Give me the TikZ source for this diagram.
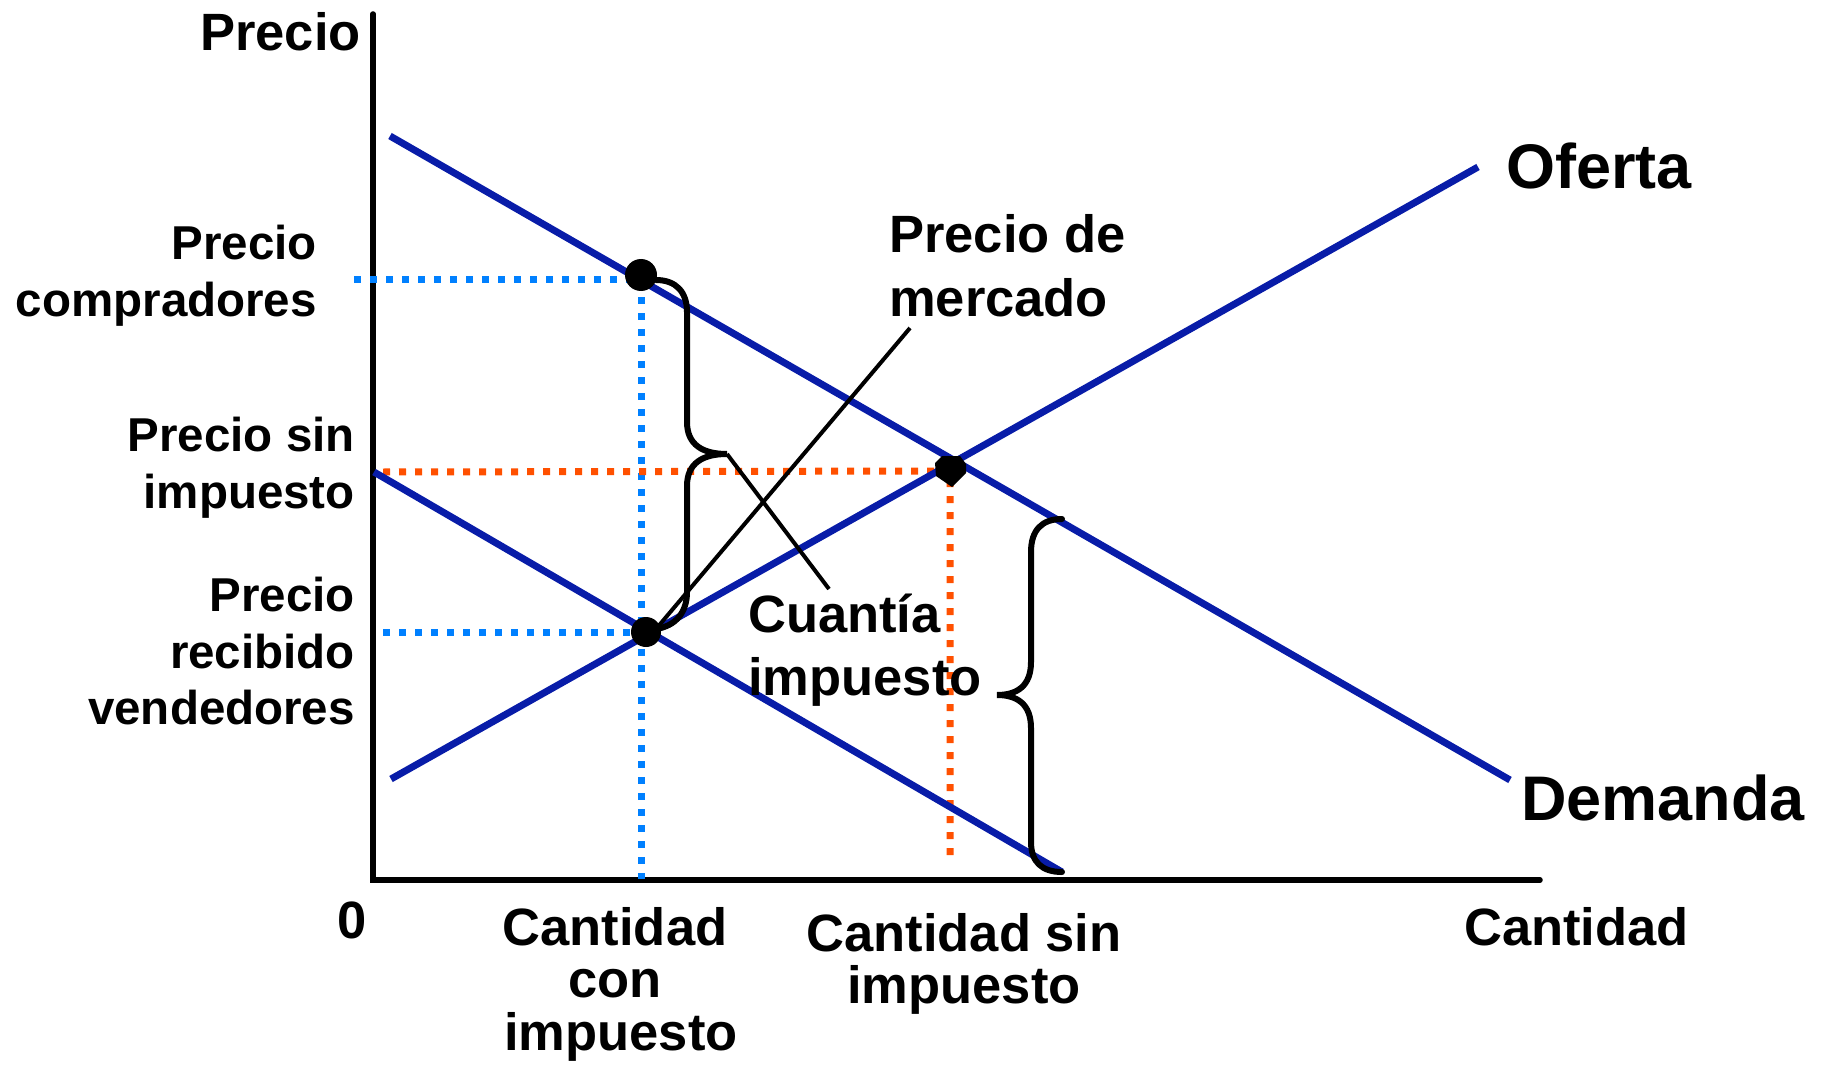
\documentclass[tikz,border=0pt]{standalone}
\usepackage{fontspec}
\setmainfont{Liberation Sans}
\definecolor{curveblue}{RGB}{8,28,168}
\definecolor{skyblue}{RGB}{0,128,255}
\definecolor{dotorange}{RGB}{255,80,0}
\tikzset{
  curveline/.style={draw=curveblue, line width=7pt},
  bluedots/.style={draw=skyblue, line width=7pt, dash pattern=on 7pt off 9pt},
  orangedots/.style={draw=dotorange, line width=7pt, dash pattern=on 7pt off 9pt},
  axisline/.style={draw=black, line width=5.5pt, line cap=round},
  bracepath/.style={draw=black, line width=6pt, line cap=round},
  leader/.style={draw=black, line width=4pt},
  ptdot/.style={circle, fill=black, inner sep=0pt, minimum size=32pt},
  sidelbl/.style={inner sep=0pt, font=\bfseries\fontsize{47.5}{47.5}\selectfont},
  mainlbl/.style={inner sep=0pt, font=\bfseries\fontsize{52.5}{52.5}\selectfont},
  biglbl/.style={inner sep=0pt, font=\bfseries\fontsize{63}{63}\selectfont},
}
\begin{document}
\begin{tikzpicture}[x=1pt, y=-1pt]
\useasboundingbox (0,0) rectangle (1825,1067);
% axes
\coordinate (ytop) at (373,14);
\coordinate (orig) at (373,880);
\coordinate (xend) at (1540,880);
\draw[axisline] (ytop) -- (orig) -- (xend);

% key coordinates
\coordinate (pb) at (641,280);
\coordinate (ps) at (646,632);
\coordinate (pm) at (950,471);
\coordinate (qb) at (641,879);
\coordinate (qm) at (950,862);
\coordinate (pbL) at (354,280);
\coordinate (psL) at (383,632);
\coordinate (pmL) at (383,472);

% dotted guide lines
\draw[bluedots] (pbL) -- (pb) -- (qb);
\draw[bluedots] (psL) -- (ps);
\draw[orangedots] (pmL) -- (pm) -- (qm);

% curves
\coordinate (d1a) at (390,136);
\coordinate (d1b) at (1510,780);
\coordinate (d2a) at (374,472);
\coordinate (d2b) at (1062,872);
\coordinate (sa) at (391,779);
\coordinate (sb) at (1478,167);
\draw[curveline] (d1a) -- (d1b);
\draw[curveline] (d2a) -- (d2b);
\draw[curveline] (sa) -- (sb);

% points
\node[ptdot] (buyer) at (641,275) {};
\node[ptdot, minimum size=30pt] (seller) at (646,632) {};
\fill[black] (942,456) -- (960,456) -- (966,464) -- (966,473) -- (952,487) -- (936,476) -- (935,463) -- cycle;
\coordinate (market) at (950,470);

% left brace (tax amount)
\coordinate (lbtop) at (656,280);
\coordinate (lbtip) at (727,454);
\coordinate (lbbot) at (656,629);
\draw[bracepath] (lbtop) .. controls (676,280) and (687,292) .. (687,312)
  -- (687,422) .. controls (687,445) and (703,454) .. (lbtip)
  .. controls (703,454) and (687,463) .. (687,486)
  -- (687,592) .. controls (687,612) and (676,626) .. (lbbot);

% right brace
\coordinate (rbtop) at (1062,519);
\coordinate (rbtip) at (997,695);
\coordinate (rbbot) at (1062,872);
\draw[bracepath] (rbtop) .. controls (1042,519) and (1031,530) .. (1031,552)
  -- (1031,662) .. controls (1031,686) and (1017,695) .. (rbtip)
  .. controls (1017,695) and (1031,704) .. (1031,728)
  -- (1031,842) .. controls (1031,862) and (1042,872) .. (rbbot);

% leader lines
\coordinate (mkleader) at (910,328);
\coordinate (txleader) at (829,589);
\draw[leader] (mkleader) -- (lbbot);
\draw[leader] (lbtip) -- (txleader);

% labels
\node[mainlbl, anchor=base east] (lprecio) at (361,51) {Precio};
\node[sidelbl, anchor=base east] (lpc1) at (317,259.6) {Precio};
\node[sidelbl, anchor=base east] (lpc2) at (317,316.6) {compradores};
\node[sidelbl, anchor=base east] (lps1) at (355,451.6) {Precio sin};
\node[sidelbl, anchor=base east] (lps2) at (355,508.6) {impuesto};
\node[sidelbl, anchor=base east] (lpv1) at (355,611) {Precio};
\node[sidelbl, anchor=base east] (lpv2) at (355,668) {recibido};
\node[sidelbl, anchor=base east] (lpv3) at (355,724) {vendedores};
\node[mainlbl, anchor=base] (lzero) at (352,938) {0};
\node[mainlbl, anchor=base] (lqc1) at (615,945) {Cantidad};
\node[mainlbl, anchor=base] (lqc2) at (615,997.5) {con};
\node[mainlbl, anchor=base] (lqc3) at (621,1050) {impuesto};
\node[mainlbl, anchor=base] (lqs1) at (964,951) {Cantidad sin};
\node[mainlbl, anchor=base] (lqs2) at (964,1003) {impuesto};
\node[mainlbl, anchor=base] (lqty) at (1576.5,945) {Cantidad};
\node[biglbl, anchor=base west] (loferta) at (1506,188.5) {Oferta};
\node[biglbl, anchor=base west] (ldemanda) at (1521,820.6) {Demanda};
\node[mainlbl, anchor=base west] (lpm1) at (889,252.7) {Precio de};
\node[mainlbl, anchor=base west] (lpm2) at (889,316.7) {mercado};
\node[mainlbl, anchor=base west] (lct1) at (748,632) {Cuantía};
\node[mainlbl, anchor=base west] (lct2) at (748,695) {impuesto};
\end{tikzpicture}
\end{document}
